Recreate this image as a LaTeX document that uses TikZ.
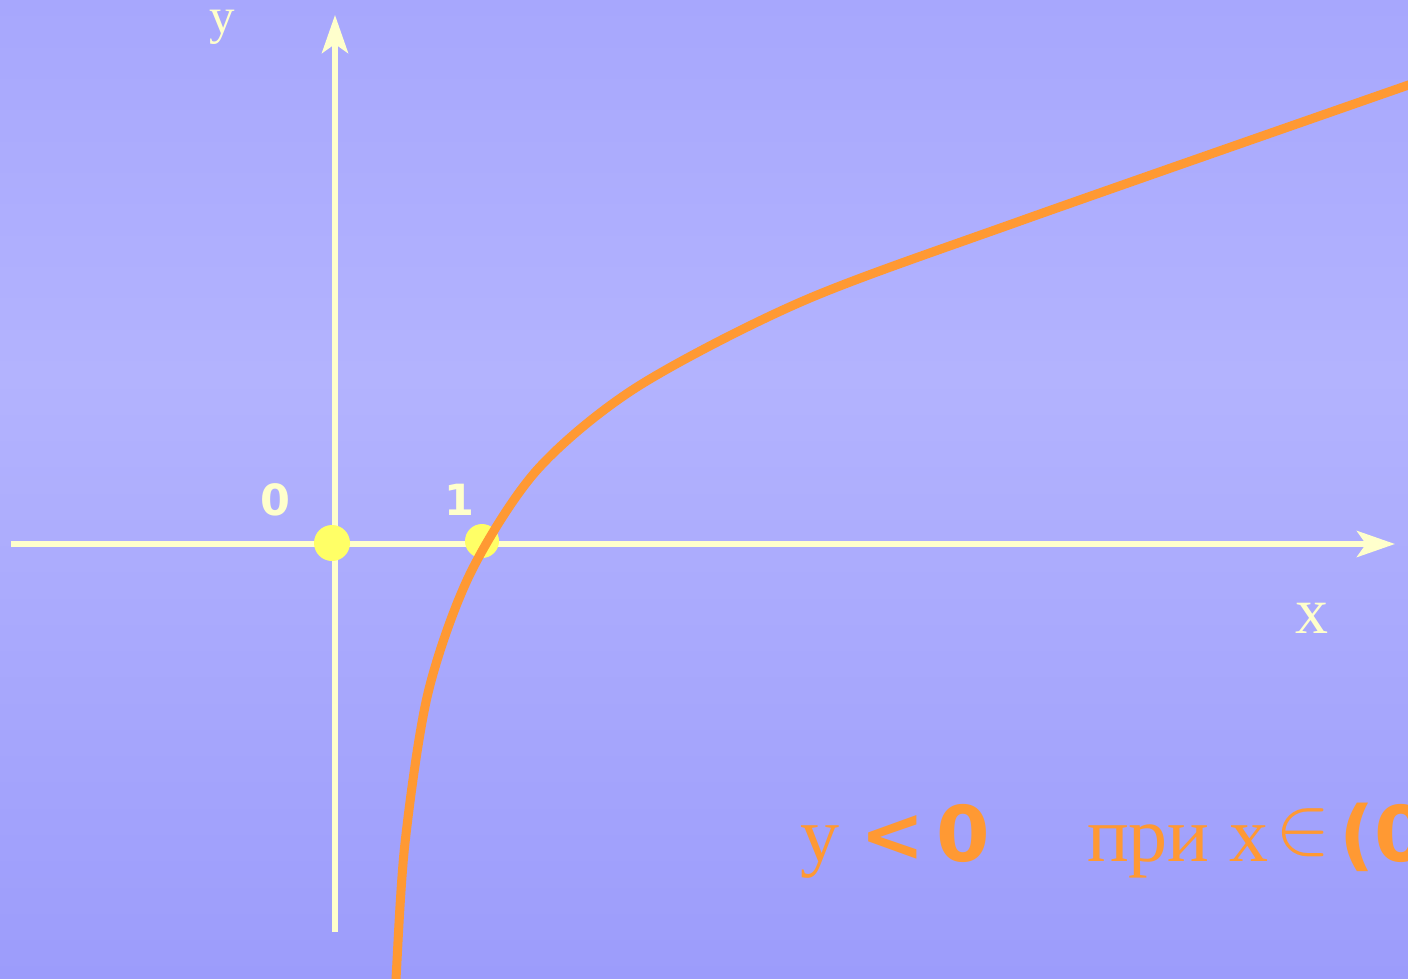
\documentclass[tikz,border=0pt]{standalone}
\usepackage{fontspec}
\usepackage{graphicx}
\setmainfont{Liberation Serif}
\newfontfamily\bsans{DejaVu Sans}
\usetikzlibrary{arrows.meta}
\definecolor{bgtop}{HTML}{A7A7FD}
\definecolor{bgmid}{HTML}{B3B3FE}
\definecolor{bgbot}{HTML}{9C9CFB}
\definecolor{axiscol}{HTML}{FFFFCC}
\definecolor{dotcol}{HTML}{FFFF66}
\definecolor{curvecol}{HTML}{FF9933}
\tikzset{
  axisline/.style={draw=axiscol, line width=6pt},
  yarrow/.style={-{Stealth[length=38pt,width=26pt,inset=9pt]}},
  dotnode/.style={circle, fill=dotcol, inner sep=0pt},
  curveline/.style={draw=curvecol, line width=9pt},
  ticklabel/.style={text=axiscol, inner sep=0pt, anchor=base, font=\bsans\bfseries\fontsize{43}{45}\selectfont},
  axislabel/.style={text=axiscol, inner sep=0pt, anchor=base},
  ineq/.style={text=curvecol, inner sep=0pt, anchor=base west, font=\fontsize{78}{80}\selectfont},
  ineqb/.style={text=curvecol, inner sep=0pt, anchor=base west, font=\bsans\bfseries\fontsize{77}{80}\selectfont}
}
\begin{document}
\begin{tikzpicture}[x=1pt,y=-1pt]
\useasboundingbox (0,0) rectangle (1408,979);
\clip (0,0) rectangle (1408,979);
\shade[top color=bgtop, bottom color=bgmid] (0,0) rectangle (1408,376);
\shade[top color=bgmid, bottom color=bgbot] (0,375) rectangle (1408,979);
% axes
\coordinate (xs) at (11,544);
\coordinate (xe) at (1395,544);
\coordinate (ys) at (335,932);
\coordinate (ye) at (335,15);
\draw[axisline, yarrow] (xs) -- (xe);
\draw[axisline, yarrow] (ys) -- (ye);
% points
\node[dotnode, minimum size=36pt] (o) at (332,543) {};
\node[dotnode, minimum size=34pt] (one) at (482,541) {};
% curve
\draw[curveline] plot[smooth] coordinates {(395,1010) (396,979) (405,843) (428,693) (470,574) (537,470) (637,387) (803,301) (1023,220) (1420,81)};
% labels
\node[ticklabel] (l0) at (275,515) {0};
\node[ticklabel] (l1) at (459,515) {1};
\node[axislabel, font=\fontsize{51}{53}\selectfont] (ly) at (222,34) {y};
\node[axislabel, font=\fontsize{66}{68}\selectfont] (lx) at (1312,633) {x};
% inequality text
\node[ineq] (t1) at (800,861) {y};
\node[ineqb] (t2) at (860,861) {<};
\node[ineqb] (t3) at (936,861) {0};
\node[ineq] (t4) at (1087,861) {при};
\node[ineq] (t5) at (1229,861) {x};
\node[text=curvecol, inner sep=0pt, anchor=west] (t6) at (1275,833) {\fontsize{10}{12}\selectfont\scalebox{8.3}{$\in$}};
\node[ineqb] (t7) at (1339,861) {(0};
\end{tikzpicture}
\end{document}
